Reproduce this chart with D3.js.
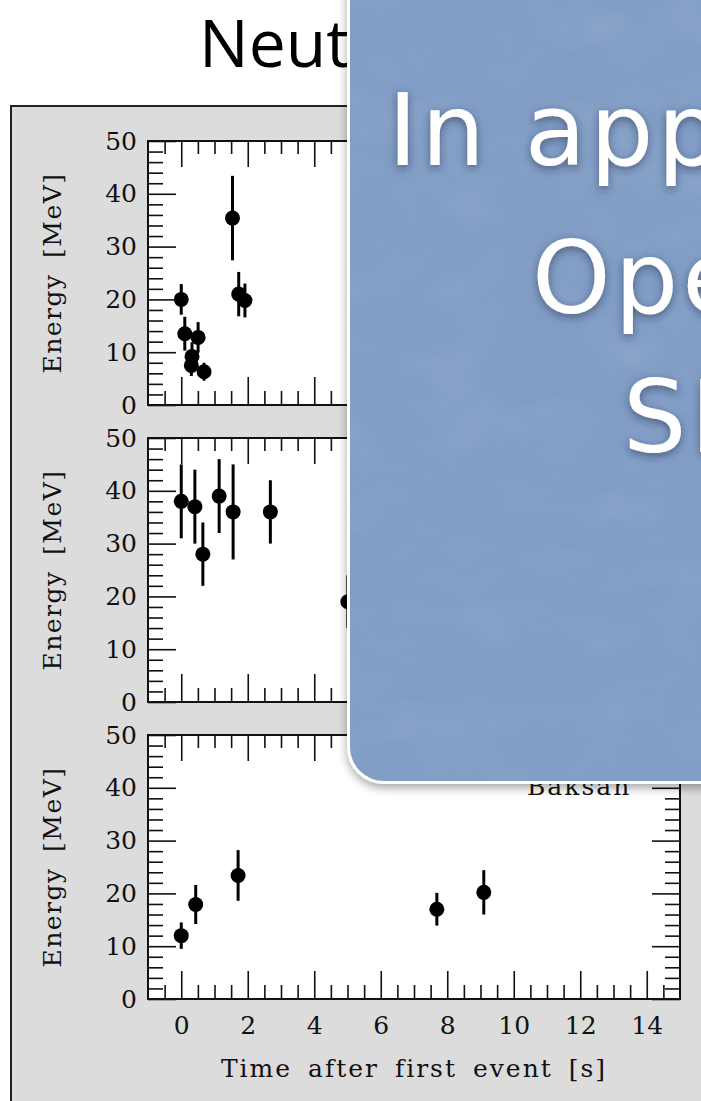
<!DOCTYPE html>
<html>
<head>
<meta charset="utf-8">
<script src="https://cdn.jsdelivr.net/npm/d3@7"></script>
<style>
  html, body { margin: 0; padding: 0; background: #fff; }
  svg { display: block; }
</style>
</head>
<body>
<div id="chart"></div>
<script>
// detectors, top to bottom (only the Baksan label is not under the card)
const detectors = ["Kamiokande", "IMB", "Baksan"];

// time after first event [s]
const kamTime = [0.000, 0.107, 0.303, 0.324, 0.507, 0.686, 1.541, 1.728, 1.915, 9.219, 10.433, 12.439];
const kamEnergy = [20.0, 13.5, 7.5, 9.2, 12.8, 6.3, 35.4, 21.0, 19.8, 8.6, 13.0, 8.9];
const kamError = [2.9, 3.2, 2.0, 2.7, 2.9, 1.7, 8.0, 4.2, 3.2, 2.7, 2.6, 1.9];

const imbTime = [0.00, 0.41, 0.65, 1.14, 1.56, 2.68, 5.01, 5.58];
const imbEnergy = [38, 37, 28, 39, 36, 36, 19, 22];
const imbError = [7, 7, 6, 7, 9, 6, 5, 5];

const bakTime = [0.000, 0.435, 1.710, 7.687, 9.099];
const bakEnergy = [12.0, 17.9, 23.4, 17.0, 20.2];
const bakError = [2.5, 3.7, 4.8, 3.1, 4.2];

const xMajorTicks = [0, 2, 4, 6, 8, 10, 12, 14];
const yMajorTicks = [0, 10, 20, 30, 40, 50];

const slideTitle = "Neut";
const noteLines = ["In app", "Ope", "SN"];

const series = [
  { time: kamTime, energy: kamEnergy, error: kamError },
  { time: imbTime, energy: imbEnergy, error: imbError },
  { time: bakTime, energy: bakEnergy, error: bakError }
];

const W = 701, H = 1101;
const plotLeft = 148, plotRight = 680;
const panelTops = [141, 438, 735];
const panelH = 264;
const serif = "'DejaVu Serif', 'Liberation Serif', serif";

const svg = d3.select("#chart").append("svg")
  .attr("width", W).attr("height", H)
  .attr("viewBox", `0 0 ${W} ${H}`);

const defs = svg.append("defs");

const shadow = defs.append("filter").attr("id", "boxShadow")
  .attr("x", -0.2).attr("y", -0.2).attr("width", 1.4).attr("height", 1.4);
shadow.append("feDropShadow").attr("dx", 0).attr("dy", 4)
  .attr("stdDeviation", 5).attr("flood-color", "#000").attr("flood-opacity", 0.35);

const textShadow = defs.append("filter").attr("id", "textShadow")
  .attr("x", -0.2).attr("y", -0.3).attr("width", 1.4).attr("height", 1.6);
textShadow.append("feDropShadow").attr("dx", 0).attr("dy", 3)
  .attr("stdDeviation", 4).attr("flood-color", "#1c2a48").attr("flood-opacity", 0.55);

const paper = defs.append("filter").attr("id", "paper")
  .attr("x", 0).attr("y", 0).attr("width", 1).attr("height", 1);
paper.append("feTurbulence").attr("type", "fractalNoise")
  .attr("baseFrequency", "0.012 0.02").attr("numOctaves", 4).attr("seed", 7).attr("result", "noise");
paper.append("feColorMatrix").attr("in", "noise").attr("type", "matrix")
  .attr("values", "0 0 0 0 1  0 0 0 0 1  0 0 0 0 1  0.55 0 0 0 -0.22")
  .attr("result", "spots");
paper.append("feComposite").attr("in", "spots").attr("in2", "SourceGraphic").attr("operator", "in");

// slide title (runs under the card)
svg.append("text")
  .attr("x", 199).attr("y", 67)
  .attr("font-family", "'Open Sans', 'Noto Sans', sans-serif")
  .attr("font-size", 66)
  .attr("fill", "#000")
  .text(slideTitle);

// grey figure frame
svg.append("rect")
  .attr("x", 11).attr("y", 106)
  .attr("width", W + 20).attr("height", H)
  .attr("fill", "#dcdcdc")
  .attr("stroke", "#222").attr("stroke-width", 2);

const x = d3.scaleLinear().domain([-1, 15]).range([plotLeft, plotRight]);
const xMinorTicks = d3.range(-0.5, 15, 0.5).filter(d => !xMajorTicks.includes(d));
const yMinorTicks = d3.range(2, 50, 2).filter(d => !yMajorTicks.includes(d));

const styleAxis = (g) => {
  g.select(".domain").remove();
  g.selectAll(".tick line").attr("stroke", "#111").attr("stroke-width", 1.6);
  g.selectAll("text")
    .attr("font-family", serif)
    .attr("font-size", 25)
    .attr("fill", "#111");
};

series.forEach((s, i) => {
  const top = panelTops[i];
  const bottom = top + panelH;
  const y = d3.scaleLinear().domain([0, 50]).range([bottom, top]);
  const last = i === series.length - 1;

  const panel = svg.append("g").attr("class", "panel");

  panel.append("rect")
    .attr("x", plotLeft).attr("y", top)
    .attr("width", plotRight - plotLeft).attr("height", panelH)
    .attr("fill", "#fff");

  // bottom ticks
  panel.append("g").attr("transform", `translate(0,${bottom})`)
    .call(d3.axisBottom(x).tickValues(xMajorTicks).tickSize(-28).tickPadding(17)
      .tickFormat(last ? d3.format("d") : () => ""))
    .call(styleAxis);
  panel.append("g").attr("transform", `translate(0,${bottom})`)
    .call(d3.axisBottom(x).tickValues(xMinorTicks).tickSize(-14).tickFormat(() => ""))
    .call(styleAxis);

  // top ticks
  panel.append("g").attr("transform", `translate(0,${top})`)
    .call(d3.axisTop(x).tickValues(xMajorTicks).tickSize(-26).tickFormat(() => ""))
    .call(styleAxis);
  panel.append("g").attr("transform", `translate(0,${top})`)
    .call(d3.axisTop(x).tickValues(xMinorTicks).tickSize(-13).tickFormat(() => ""))
    .call(styleAxis);

  // left ticks
  panel.append("g").attr("transform", `translate(${plotLeft},0)`)
    .call(d3.axisLeft(y).tickValues(yMajorTicks).tickSize(-28).tickPadding(11).tickFormat(d3.format("d")))
    .call(styleAxis);
  panel.append("g").attr("transform", `translate(${plotLeft},0)`)
    .call(d3.axisLeft(y).tickValues(yMinorTicks).tickSize(-15).tickFormat(() => ""))
    .call(styleAxis);

  // right ticks
  panel.append("g").attr("transform", `translate(${plotRight},0)`)
    .call(d3.axisRight(y).tickValues(yMajorTicks).tickSize(-28).tickFormat(() => ""))
    .call(styleAxis);
  panel.append("g").attr("transform", `translate(${plotRight},0)`)
    .call(d3.axisRight(y).tickValues(yMinorTicks).tickSize(-15).tickFormat(() => ""))
    .call(styleAxis);

  panel.append("rect")
    .attr("x", plotLeft).attr("y", top)
    .attr("width", plotRight - plotLeft).attr("height", panelH)
    .attr("fill", "none").attr("stroke", "#111").attr("stroke-width", 2);

  // y label
  panel.append("text")
    .attr("transform", `translate(61,${top + panelH / 2}) rotate(-90)`)
    .attr("text-anchor", "middle")
    .attr("font-family", serif).attr("font-size", 25)
    .attr("letter-spacing", 1.5).attr("word-spacing", 6)
    .attr("fill", "#111")
    .text("Energy [MeV]");

  // detector name (the first two sit under the card, so leave them out)
  if (last) {
    panel.append("text")
      .attr("x", 527).attr("y", top + 60)
      .attr("font-family", serif).attr("font-size", 25)
      .attr("letter-spacing", 2)
      .attr("fill", "#111")
      .text(detectors[i]);
  }

  const events = s.time.map((t, k) => ({ t, e: s.energy[k], err: s.error[k] }));

  panel.selectAll("line.err").data(events).join("line")
    .attr("class", "err")
    .attr("x1", d => x(d.t)).attr("x2", d => x(d.t))
    .attr("y1", d => y(d.e - d.err)).attr("y2", d => y(d.e + d.err))
    .attr("stroke", "#000").attr("stroke-width", 3);

  panel.selectAll("circle.dot").data(events).join("circle")
    .attr("class", "dot")
    .attr("cx", d => x(d.t)).attr("cy", d => y(d.e))
    .attr("r", 7.5)
    .attr("fill", "#000");
});

// x label
svg.append("text")
  .attr("x", (plotLeft + plotRight) / 2).attr("y", 1077)
  .attr("text-anchor", "middle")
  .attr("font-family", serif).attr("font-size", 25)
  .attr("letter-spacing", 2).attr("word-spacing", 6)
  .attr("fill", "#111")
  .text("Time after first event [s]");

// blue note card laid over the slide
const card = svg.append("g");
card.append("rect")
  .attr("x", 347).attr("y", -60)
  .attr("width", 420).attr("height", 844)
  .attr("rx", 37)
  .attr("fill", "#fff")
  .attr("filter", "url(#boxShadow)");
card.append("rect")
  .attr("x", 350).attr("y", -60)
  .attr("width", 420).attr("height", 841)
  .attr("rx", 34)
  .attr("fill", "#819dc5");
card.append("rect")
  .attr("x", 350).attr("y", -60)
  .attr("width", 420).attr("height", 841)
  .attr("rx", 34)
  .attr("fill", "#fff")
  .attr("opacity", 0.25)
  .attr("filter", "url(#paper)");

const noteX = [388, 532, 623];
const noteY = [165, 313, 452];
card.selectAll("text.note").data(noteLines).join("text")
  .attr("class", "note")
  .attr("x", (d, k) => noteX[k]).attr("y", (d, k) => noteY[k])
  .attr("font-family", "'DejaVu Sans', 'Noto Sans', sans-serif")
  .attr("font-size", 100)
  .attr("letter-spacing", 4)
  .attr("fill", "#fff")
  .attr("filter", "url(#textShadow)")
  .text(d => d);
</script>
</body>
</html>
